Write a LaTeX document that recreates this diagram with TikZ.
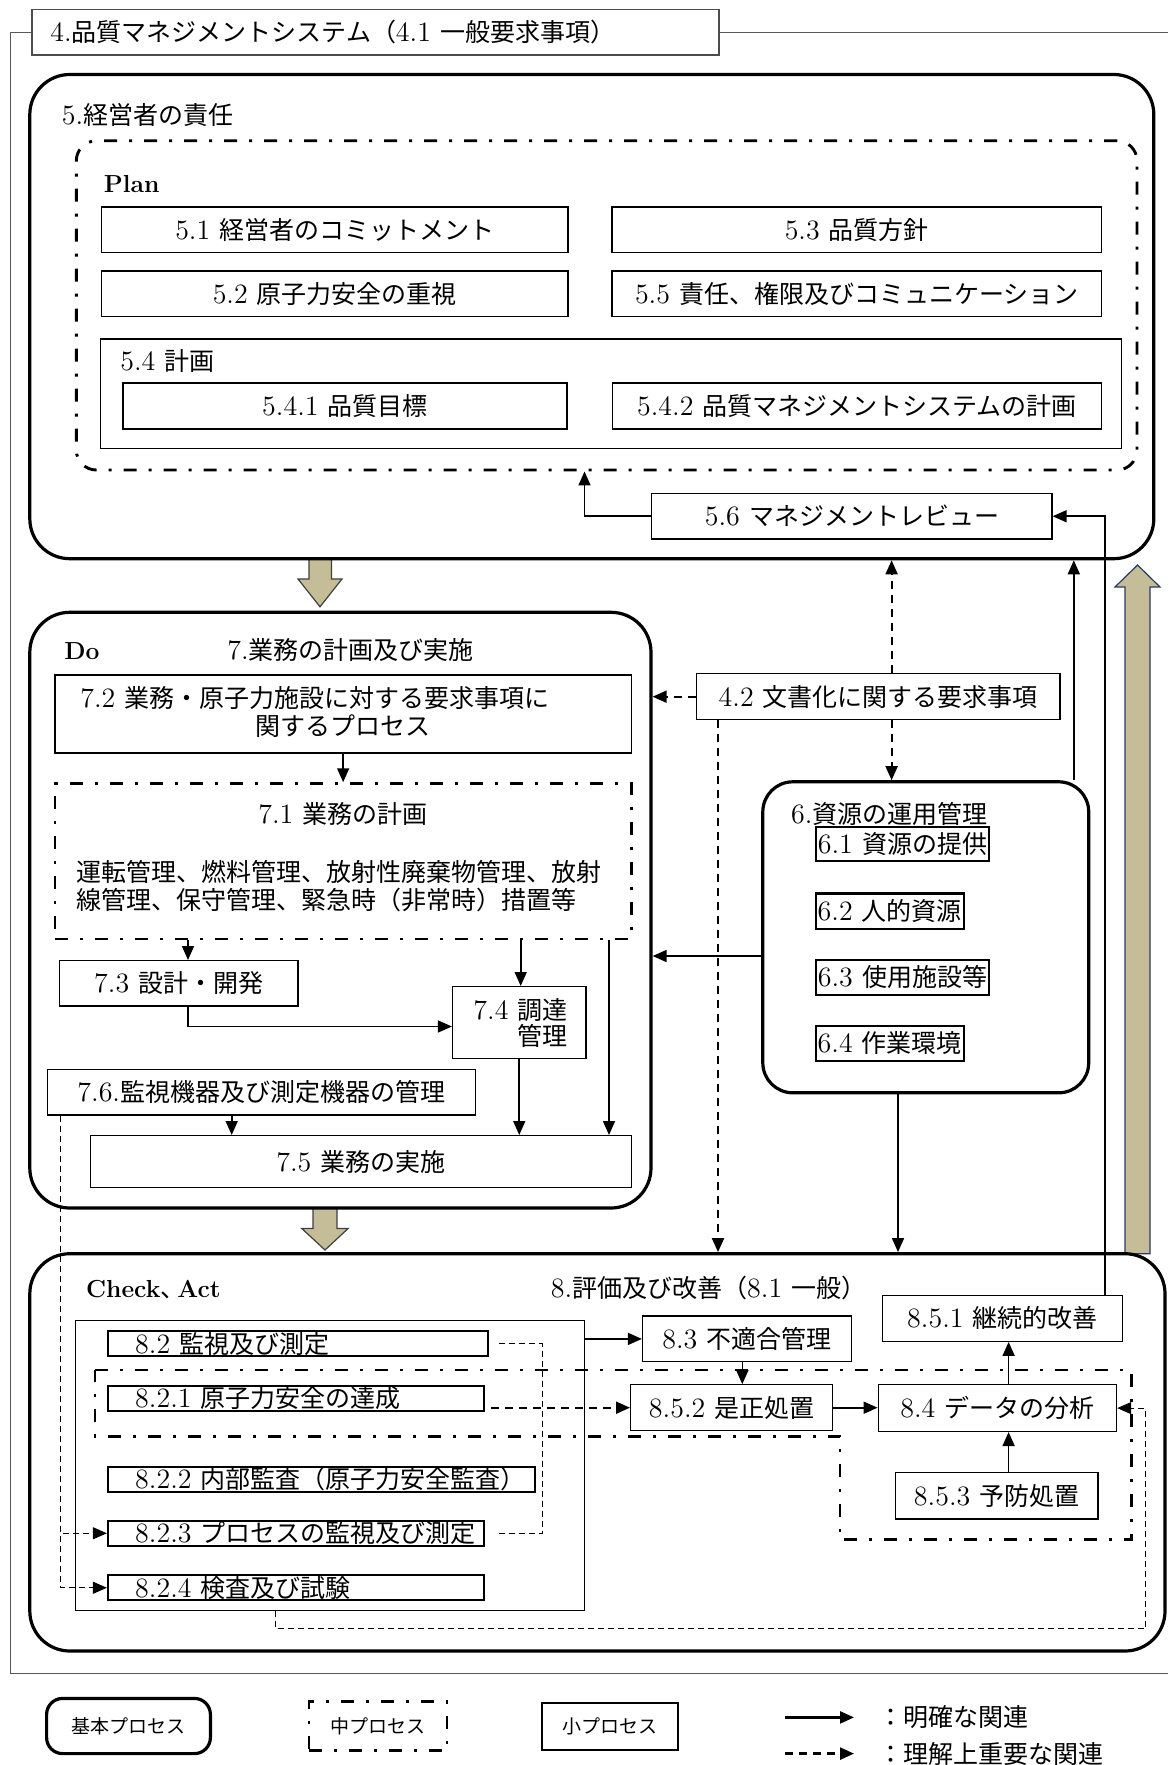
\documentclass[tikz,border=0pt]{standalone}
\usepackage{fontspec}
\setmainfont{Latin Modern Roman}[Scale=1.12]
\newfontfamily\jp{Noto Sans CJK JP}
\usetikzlibrary{arrows.meta}
\newcommand\J[1]{{\jp #1}}
\newcommand\fsz{\fontsize{12.5pt}{14pt}\selectfont}
\newcommand\fbd{\fontsize{11pt}{14pt}\selectfont\bfseries}
\newcommand\fsm{\fontsize{9.5pt}{11pt}\selectfont}
\definecolor{beigefill}{RGB}{196,189,151}
\definecolor{slateline}{RGB}{40,60,100}
\newcommand\BX[7][]{%
  \pgfmathsetmacro\bxw{(#5-#3)*0.5}%
  \pgfmathsetmacro\bxh{(#6-#4)*0.5}%
  \pgfmathsetmacro\bxx{(#3+#5)/2}%
  \pgfmathsetmacro\bxy{(#4+#6)/2}%
  \node[sbox, minimum width=\bxw pt, minimum height=\bxh pt, #1] (#2) at (\bxx,\bxy) {#7};}
\begin{document}
\begin{tikzpicture}[x=0.5pt,y=-0.5pt,
  font=\fsz,
  th/.style={text height=11pt, text depth=1.5pt},
  thsm/.style={text height=8.4pt, text depth=1.1pt},
  sbox/.style={draw, line width=0.6pt, inner sep=0pt, th},
  mbox/.style={line width=1.1pt},
  bigbox/.style={line width=1.6pt, rounded corners=20pt},
  ddot/.style={draw, line width=1.45pt, dash pattern=on 6.5pt off 6pt on 1.5pt off 6pt},
  txt/.style={inner sep=0pt, anchor=west, th},
  ctr/.style={inner sep=0pt, th},
  arr/.style={line width=0.8pt, -{Triangle[length=7pt,width=6pt]}},
  darr/.style={line width=1pt, dash pattern=on 4pt off 3pt, -{Triangle[length=7pt,width=6pt]}},
  tdarr/.style={line width=0.5pt, dash pattern=on 3pt off 2pt, -{Triangle[length=7pt,width=6pt]}},
  tdash/.style={line width=0.5pt, dash pattern=on 3pt off 2pt},
  frame/.style={draw=black!65, line width=0.6pt},
  big/.style={fill=beigefill, draw=black!75, line width=0.6pt}
]
\fill[white] (0,0) rectangle (1168,1765);
\useasboundingbox (0,0) rectangle (1168,1765);

% helper coordinates
\coordinate (x584) at (584.5,0);
\coordinate (x1105) at (1105,0);
\coordinate (x892) at (891.6,0);
\coordinate (x1074) at (1073.8,0);
\coordinate (x718) at (718,0);
\coordinate (y956) at (0,956);
\coordinate (x898) at (898,0);
\coordinate (x188) at (188,0);
\coordinate (x520) at (520.7,0);
\coordinate (x609) at (609,0);
\coordinate (x232) at (231.7,0);
\coordinate (x61) at (60.7,0);
\coordinate (x742) at (742.3,0);
\coordinate (x542) at (542,0);
\coordinate (x1008) at (1008.6,0);
\coordinate (x276) at (275.6,0);
\coordinate (x1145) at (1145.3,0);
\coordinate (y1629) at (0,1628.8);
\coordinate (y1026) at (0,1026.5);
\coordinate (fbl) at (10.5,1673.5);
\coordinate (fbr) at (1168,1673.5);
\coordinate (ftr) at (1168,32.15);

% big beige arrows
\draw[big] (309,558.7) -- (331.5,558.7) -- (331.5,579) -- (342,579) -- (320,606.8) -- (298,579) -- (309,579) -- cycle;
\draw[big] (313,1208) -- (337,1208) -- (337,1228.4) -- (348.2,1228.4) -- (325,1250) -- (301.7,1228.4) -- (313,1228.4) -- cycle;
\draw[big, draw=slateline] (1125,1253.7) -- (1150,1253.7) -- (1150,587) -- (1160,587) -- (1137.5,565) -- (1115,587) -- (1125,587) -- cycle;

% title and frame
\BX[draw=black!70]{title}{32}{9.3}{719}{55}{}
\node[txt] (ttitle) at (50,32) {4.\J{品質マネジメントシステム（}4.1 \J{一般要求事項）}};
\draw[frame] (title.west) -| (fbl) -- (fbr);
\draw[frame] (title.east) -- (ftr);

% 5. management responsibility
\BX[bigbox]{p5}{29.8}{74.5}{1153.8}{558.7}{}
\node[txt] (t5) at (61.5,115.5) {5.\J{経営者の責任}};
\BX[ddot, rounded corners=10pt]{plan}{76.3}{140.8}{1137}{470}{}
\node[txt, font=\fbd] (tplan) at (103.5,183) {Plan};
\BX{b51}{101.7}{207}{568}{252.5}{5.1 \J{経営者のコミットメント}}
\BX{b53}{612}{207}{1101.7}{252.5}{5.3 \J{品質方針}}
\BX{b52}{101.7}{271}{568}{316.6}{5.2 \J{原子力安全の重視}}
\BX{b55}{612}{271}{1101.7}{316.6}{5.5 \J{責任、権限及びコミュニケーション}}
\BX{b54}{100.5}{339}{1121.4}{448.8}{}
\node[txt] (t54) at (120,361) {5.4 \J{計画}};
\BX{b541}{123}{383}{567}{429}{5.4.1 \J{品質目標}}
\BX{b542}{612.3}{383}{1101.7}{429}{5.4.2 \J{品質マネジメントシステムの計画}}
\BX{b56}{651.8}{493.5}{1052}{539}{5.6 \J{マネジメントレビュー}}

% 7. Do
\BX[bigbox]{pdo}{29.8}{612.3}{651}{1208}{}
\node[txt, font=\fbd] (tdo) at (64,649.6) {Do};
\node[txt] (t7) at (227,649.6) {7.\J{業務の計画及び実施}};
\BX{b72}{55}{675}{631.3}{753}{}
\node[ctr] (t72a) at (315,698) {7.2 \J{業務・原子力施設に対する要求事項に}};
\node[ctr] (t72b) at (343,726) {\J{関するプロセス}};
\BX[ddot]{b71}{55}{783.7}{631.3}{939}{}
\node[ctr] (t71) at (343,813.5) {7.1 \J{業務の計画}};
\node[txt] (t71c) at (76.3,872) {\J{運転管理、燃料管理、放射性廃棄物管理、放射}};
\node[txt] (t71d) at (76.3,900) {\J{線管理、保守管理、緊急時（非常時）措置等}};
\BX{b73}{59.6}{960.6}{298}{1006}{7.3 \J{設計・開発}}
\BX{b74}{452.5}{986.6}{586}{1058.5}{}
\node[ctr, anchor=east] (t74a) at (568,1009.7) {7.4 \J{調達}};
\node[ctr, anchor=east] (t74b) at (568,1035.8) {\J{管理}};
\BX{b76}{47.3}{1069.7}{475.2}{1115}{7.6.\J{監視機器及び測定機器の管理}}
\BX{b75}{90.5}{1135.6}{631.3}{1187.4}{7.5 \J{業務の実施}}

% 4.2
\BX{b42}{696.5}{673.8}{1060}{719.6}{4.2 \J{文書化に関する要求事項}}

% 6. resources
\BX[bigbox, rounded corners=15pt]{p6}{762.8}{781.8}{1088.7}{1092.8}{}
\node[txt] (t6) at (790.7,813.5) {6.\J{資源の運用管理}};
\BX[mbox]{b61}{815.7}{827.2}{989.2}{861.1}{6.1 \J{資源の提供}}
\BX[mbox]{b62}{815.7}{893.5}{963.9}{929}{6.2 \J{人的資源}}
\BX[mbox]{b63}{815.7}{959.8}{989.2}{994.8}{6.3 \J{使用施設等}}
\BX[mbox]{b64}{815.7}{1025.8}{963.9}{1061.1}{6.4 \J{作業環境}}

% 8. Check, Act
\BX[bigbox]{p8}{29.8}{1253.7}{1165}{1651}{}
\node[txt] (tca) at (85.7,1288) {{\fbd Check}\J{、}\kern-4pt{\fbd Act}};
\node[txt] (t8) at (550.5,1288) {8.\J{評価及び改善（}8.1 \J{一般）}};
\BX{c82}{75.6}{1320.8}{584.5}{1610.2}{}
\BX[mbox]{b82}{108}{1330.8}{487.9}{1356.2}{}
\BX[mbox]{b821}{108}{1385.6}{484.2}{1411}{}
\BX[mbox]{b822}{108}{1466.8}{535.2}{1492}{}
\BX[mbox]{b823}{108}{1520.8}{484.2}{1545.7}{}
\BX[mbox]{b824}{108}{1575.5}{484.2}{1600}{}
\node[txt] (t82) at (134.8,1343.5) {8.2 \J{監視及び測定}};
\node[txt] (t821) at (134.8,1398.3) {8.2.1 \J{原子力安全の達成}};
\node[txt] (t822) at (134.8,1479.4) {8.2.2 \J{内部監査（原子力安全監査）}};
\node[txt] (t823) at (134.8,1533.2) {8.2.3 \J{プロセスの監視及び測定}};
\node[txt] (t824) at (134.8,1587.7) {8.2.4 \J{検査及び試験}};
\draw[ddot] (95,1370) -- (1131.5,1370) -- (1131.5,1539.4) -- (840,1539.4) -- (840,1436.2) -- (95,1436.2) -- cycle;
\BX{b83}{642.5}{1316}{851.4}{1361.8}{8.3 \J{不適合管理}}
\BX{b852}{630.6}{1384.8}{832.8}{1430.6}{8.5.2 \J{是正処置}}
\BX{b84}{878.2}{1384.8}{1116.6}{1431.4}{8.4 \J{データの分析}}
\BX{b851}{882.7}{1295.5}{1122.2}{1341.3}{8.5.1 \J{継続的改善}}
\BX{b853}{895.4}{1472.4}{1098}{1519}{8.5.3 \J{予防処置}}

% connectors
\draw[arr] (b56.west) -| (plan.south -| x584);
\draw[arr] (b851.north -| x1105) |- (b56.east);
\draw[darr] (b42.north -| x892) -- (p5.south -| x892);
\draw[arr] (p6.north -| x1074) -- (p5.south -| x1074);
\draw[darr] (b42.south -| x892) -- (p6.north -| x892);
\draw[darr] (b42.west) -- (b42.west -| pdo.east);
\draw[darr] (b42.south -| x718) -- (p8.north -| x718);
\draw[arr] (p6.west |- y956) -- (pdo.east |- y956);
\draw[arr] (p6.south -| x898) -- (p8.north -| x898);
\draw[arr] (b72.south) -- (b71.north);
\draw[arr] (b71.south -| x188) -- (b73.north -| x188);
\draw[arr] (b71.south -| x520) -- (b74.north -| x520);
\draw[arr] (b71.south -| x609) -- (b75.north -| x609);
\draw[arr] (b73.south -| x188) |- (b74.west |- y1026);
\draw[arr] (b74.south) -- (b75.north -| b74.south);
\draw[arr] (b76.south -| x232) -- (b75.north -| x232);
\draw[tdarr] (b76.south -| x61) |- (b823.west);
\draw[tdarr] (b76.south -| x61) |- (b824.west);
\draw[arr] (c82.east |- b83.west) -- (b83.west);
\draw[arr] (b83.south -| x742) -- (b852.north -| x742);
\draw[darr, shorten <=3pt] (b852.west -| b821.east) -- (b852.west);
\draw[tdash] ([xshift=5pt]b82.east) -| (x542 |- b823.east) -- ([xshift=6pt]b823.east);
\draw[arr] (b852.east) -- (b852.east -| b84.west);
\draw[arr] (b84.north -| x1008) -- (b851.south -| x1008);
\draw[arr] (b853.north -| x1008) -- (b84.south -| x1008);
\draw[tdarr] (c82.south -| x276) |- (x1145 |- y1629) |- (b84.east);

% legend
\BX[bigbox, rounded corners=8pt, font=\fsm, thsm]{lg1}{46.6}{1698.4}{210.4}{1753.6}{\J{基本プロセス}}
\BX[ddot, font=\fsm, thsm]{lg2}{309}{1701.4}{447}{1750.6}{\J{中プロセス}}
\BX[mbox, font=\fsm, thsm]{lg3}{542}{1703.3}{678.2}{1749.8}{\J{小プロセス}}
\coordinate (la1) at (785,1717.4);
\coordinate (la2) at (854,1717.4);
\coordinate (lb1) at (785,1753.6);
\coordinate (lb2) at (854,1753.6);
\draw[arr, line width=1.2pt] (la1) -- (la2);
\draw[darr, line width=1.2pt] (lb1) -- (lb2);
\node[txt] (lt1) at (878,1717.4) {\J{：明確な関連}};
\node[txt] (lt2) at (878,1753.6) {\J{：理解上重要な関連}};
\end{tikzpicture}
\end{document}
